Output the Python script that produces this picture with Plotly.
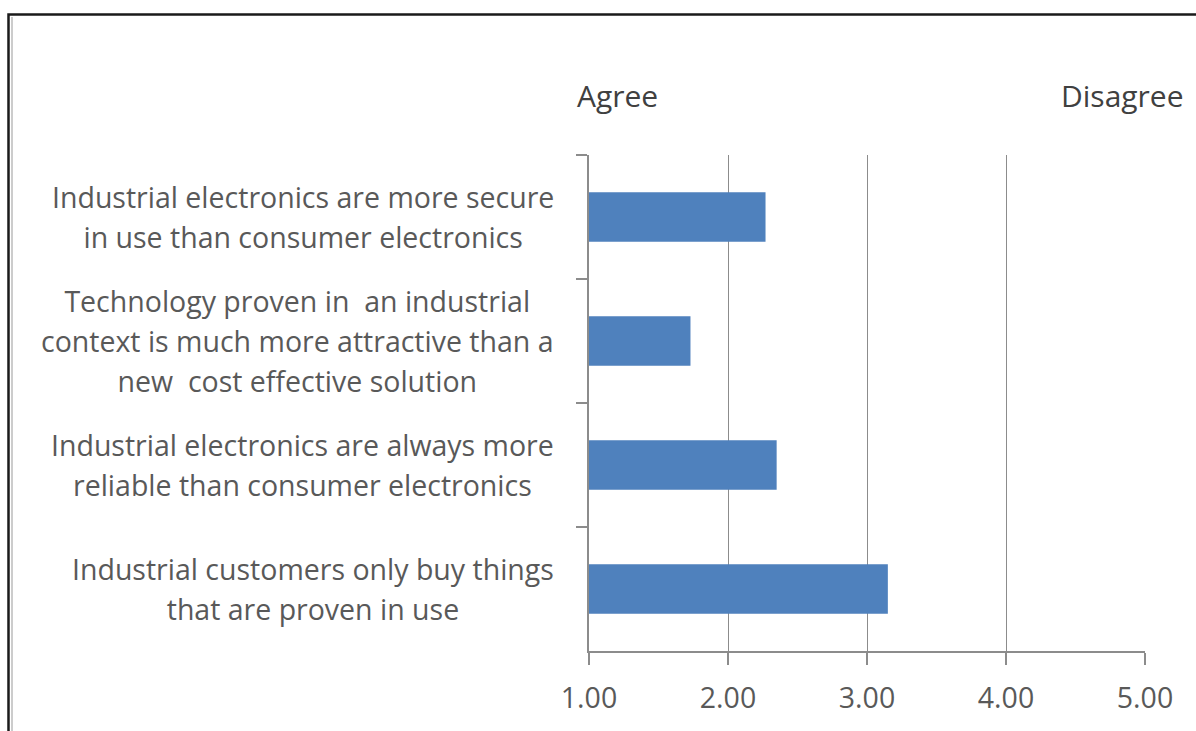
import plotly.graph_objects as go

# Survey statements (top to bottom) and mean scores on a 1 (agree) to 5 (disagree) scale
statements = [
    "Industrial electronics are more secure<br>in use than consumer electronics",
    "Technology proven in  an industrial<br>context is much more attractive than a<br>new  cost effective solution",
    "Industrial electronics are always more<br>reliable than consumer electronics",
    "Industrial customers only buy things<br>that are proven in use",
]
scores = [2.27, 1.73, 2.35, 3.15]
tick_values = [1, 2, 3, 4, 5]
tick_labels = ["1.00", "2.00", "3.00", "4.00", "5.00"]
scale_ends = ["Agree", "Disagree"]

W, H = 1196, 731
L, R, T, B = 589, 1145, 155, 651
FONT = "Open Sans"
GREY = "#595959"
AXIS = "#8c8c8c"

cats = [f"s{i}" for i in range(len(statements))]

fig = go.Figure(
    go.Bar(
        y=cats,
        x=[s - 1 for s in scores],
        base=1,
        orientation="h",
        marker=dict(color="#4F81BD", line=dict(width=0)),
        width=0.4,
        hoverinfo="skip",
    )
)


def px_x(p):
    return (p - L) / (R - L)


def px_y(p):
    return (B - p) / (B - T)


# statement labels, each block centred and right-aligned against the axis;
# outer font size sets the line pitch, inner span sets the glyph size
for c, text in zip(cats, statements):
    lines = text.split("<br>")
    styled = "<br>".join(f"<span style='font-size:28.5px'>{ln}</span>" for ln in lines)
    fig.add_annotation(
        x=0, xref="paper", xshift=-33, xanchor="right",
        y=c, yref="y", yanchor="middle",
        text=styled, align="center", showarrow=False,
        font=dict(family=FONT, size=30.8, color=GREY),
    )

# scale end captions above the plot
fig.add_annotation(
    x=px_x(575), xref="paper", y=px_y(95), yref="paper",
    text=scale_ends[0], showarrow=False, xanchor="left", yanchor="middle",
    font=dict(family=FONT, size=30, color="#404040"),
)
fig.add_annotation(
    x=px_x(1186), xref="paper", y=px_y(95), yref="paper",
    text=scale_ends[1], showarrow=False, xanchor="right", yanchor="middle",
    font=dict(family=FONT, size=30, color="#404040"),
)

# outer frame
fig.add_shape(type="rect", xref="paper", yref="paper",
              x0=px_x(8.5), x1=px_x(1220), y0=px_y(14.5), y1=px_y(760),
              line=dict(color="#1a1a1a", width=2.5), fillcolor="rgba(0,0,0,0)", layer="above")
fig.add_shape(type="line", xref="paper", yref="paper",
              x0=px_x(12), x1=px_x(12), y0=px_y(17), y1=px_y(760),
              line=dict(color="#cccccc", width=2))

fig.update_layout(
    width=W, height=H,
    margin=dict(l=L, r=W - R, t=T, b=H - B, pad=0),
    paper_bgcolor="white", plot_bgcolor="white",
    showlegend=False,
    font=dict(family=FONT, color=GREY),
    xaxis=dict(
        range=[1, 5], tickvals=tick_values, ticktext=tick_labels,
        showgrid=True, gridcolor=AXIS, gridwidth=1.2,
        showline=True, linecolor=AXIS, linewidth=1.5,
        ticks="outside", ticklen=12, tickcolor=AXIS, tickwidth=1.5,
        tickfont=dict(family=FONT, size=28.5, color=GREY),
        ticklabelstandoff=9,
        zeroline=False, fixedrange=True,
    ),
    yaxis=dict(
        categoryorder="array", categoryarray=cats, autorange="reversed",
        showticklabels=False, tickson="boundaries",
        ticks="outside", ticklen=11, tickcolor=AXIS, tickwidth=1.5,
        showline=True, linecolor=AXIS, linewidth=1.5,
        showgrid=False, zeroline=False, fixedrange=True,
    ),
)

fig.write_html("out.html", config={"displayModeBar": False})
